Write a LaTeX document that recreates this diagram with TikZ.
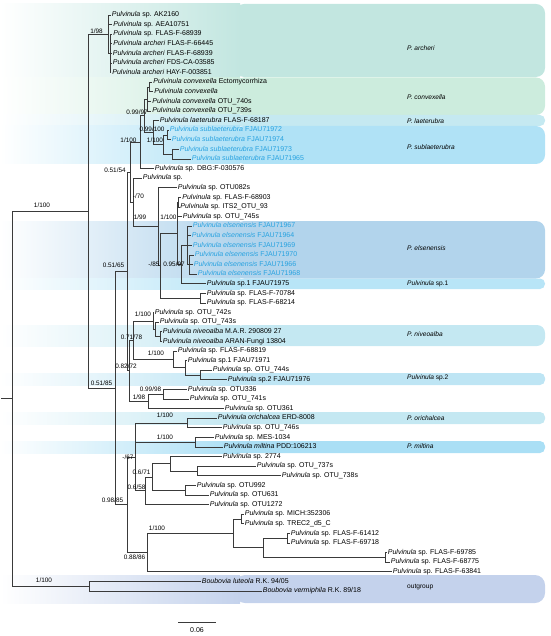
\documentclass[tikz,border=0pt]{standalone}
\usepackage{fontspec}
\setmainfont{Liberation Sans}
\newcommand{\Pul}{\textit{Pulvinula}}
\definecolor{treeline}{HTML}{3A3A3A}
\definecolor{blueleaf}{HTML}{27A2E0}
\definecolor{cArch}{HTML}{C2E6E0}
\definecolor{cConv}{HTML}{CCECDD}
\definecolor{cLaet}{HTML}{C5E9F1}
\definecolor{cSubl}{HTML}{B0E2F6}
\definecolor{cElse}{HTML}{B2D4EC}
\definecolor{cSpA}{HTML}{B8E5F7}
\definecolor{cNive}{HTML}{C4E8F2}
\definecolor{cSpB}{HTML}{BEE5F4}
\definecolor{cOric}{HTML}{C4E8F2}
\definecolor{cMilt}{HTML}{AADFF5}
\definecolor{cOut}{HTML}{C4D2EC}
\tikzset{
  br/.style={draw=treeline, line width=0.75pt},
  leaf/.style={anchor=west, inner sep=1.2pt, font=\fontsize{7}{8}\selectfont, text height=5pt, text depth=1.5pt},
  bleaf/.style={leaf, text=blueleaf},
  supp/.style={font=\fontsize{6.4}{7}\selectfont, inner sep=0pt},
  clade/.style={anchor=west, font=\fontsize{6.6}{7}\selectfont, inner sep=0pt},
}
\newcommand{\band}[4]{% top, bottom, color, radius
  \fill[#3, rounded corners=#4] (235,#1) rectangle (545,#2);
  \shade[left color=white, right color=#3] (0,#1) rectangle (240,#2);
}
\begin{document}
\begin{tikzpicture}[x=1pt, y=-1pt]
\useasboundingbox (0,0) rectangle (550,636);
% ---- bands ----
\band{4}{77}{cArch}{9}
\band{77.5}{115}{cConv}{9}
\band{115}{126}{cLaet}{5}
\band{126}{164}{cSubl}{9}
\band{221}{278.5}{cElse}{9}
\band{278.5}{289}{cSpA}{5}
\band{325}{346}{cNive}{8}
\band{373}{385}{cSpB}{5}
\band{412}{424}{cOric}{5}
\band{441}{453}{cMilt}{5}
\band{575}{603}{cOut}{10}
% ---- clade labels ----
\node[clade] (cl01) at (407,48) {\textit{P. archeri}};
\node[clade] (cl02) at (407,97) {\textit{P. convexella}};
\node[clade] (cl03) at (407,121) {\textit{P. laeterubra}};
\node[clade] (cl04) at (407,147) {\textit{P. sublaeterubra}};
\node[clade] (cl05) at (407,248) {\textit{P. elsenensis}};
\node[clade] (cl06) at (407,283.5) {\Pul{} sp.1};
\node[clade] (cl07) at (407,334) {\textit{P. niveoalba}};
\node[clade] (cl08) at (407,378) {\Pul{} sp.2};
\node[clade] (cl09) at (407,418) {\textit{P. orichalcea}};
\node[clade] (cl10) at (407,446.5) {\textit{P. miltina}};
\node[clade] (cl11) at (407,587) {outgroup};
% ---- internal nodes ----
\coordinate (stub) at (1,398.7);
\coordinate (ROOT) at (12,398.7);
\coordinate (IN) at (88,211.2);
\coordinate (OUT) at (89,586.2);
\coordinate (ARCH) at (108.5,34.2);
\coordinate (A1) at (110,53.4);
\coordinate (N5185) at (115,388.2);
\coordinate (N5165) at (127,271.6);
\coordinate (N5154) at (130,172.35);
\coordinate (B) at (140,142.2);
\coordinate (N9997) at (144,115.8);
\coordinate (C0) at (147,99);
\coordinate (C1) at (149,87);
\coordinate (N99100) at (153,132.6);
\coordinate (SUB) at (163,144.6);
\coordinate (S1) at (167,135);
\coordinate (S2) at (172,154.2);
\coordinate (NM70) at (133,202.5);
\coordinate (N199) at (158,226.8);
\coordinate (NM85) at (160,265.8);
\coordinate (Q) at (177,233.4);
\coordinate (R) at (178.5,202.2);
\coordinate (S) at (181,264.6);
\coordinate (E1) at (187,245.4);
\coordinate (E2) at (189,264.6);
\coordinate (P) at (200,298.2);
\coordinate (N8272) at (129,370.8);
\coordinate (N7178) at (133,340.2);
\coordinate (N1100n) at (153,321);
\coordinate (N2) at (155,329.4);
\coordinate (NIV) at (160,336.6);
\coordinate (M1) at (173,359.4);
\coordinate (M2) at (185,367.8);
\coordinate (M3) at (200,375);
\coordinate (N198) at (148,401.4);
\coordinate (N9998) at (163,394.2);
\coordinate (N9885) at (127,504.75);
\coordinate (NM67) at (135,456.9);
\coordinate (ORI) at (187,423);
\coordinate (MIL) at (195,442.2);
\coordinate (N658) at (145,490.8);
\coordinate (N671) at (152,477);
\coordinate (T2774) at (170,463.8);
\coordinate (T737) at (197,471);
\coordinate (T992) at (185,490.2);
\coordinate (N8886) at (147,552.6);
\coordinate (N1100m) at (233,533.4);
\coordinate (MT) at (241,519);
\coordinate (F4) at (263,547.8);
\coordinate (F41) at (287,538.2);
\coordinate (F42) at (385,557.4);
% ---- leaves ----
\node[leaf] (l1) at (110.5,15) {\Pul{} sp. AK2160};
\node[leaf] (l2) at (112,24.6) {\Pul{} sp. AEA10751};
\node[leaf] (l3) at (112,34.2) {\Pul{} sp. FLAS-F-68939};
\node[leaf] (l4) at (112,43.8) {\textit{Pulvinula archeri} FLAS-F-66445};
\node[leaf] (l5) at (111.5,53.4) {\textit{Pulvinula archeri} FLAS-F-68939};
\node[leaf] (l6) at (111.5,63) {\textit{Pulvinula archeri} FDS-CA-03585};
\node[leaf] (l7) at (111,72.6) {\textit{Pulvinula archeri} HAY-F-003851};
\node[leaf] (l8) at (152,82.2) {\textit{Pulvinula convexella} Ectomycorrhiza};
\node[leaf] (l9) at (153,91.8) {\textit{Pulvinula convexella}};
\node[leaf] (l10) at (151,101.4) {\textit{Pulvinula convexella} OTU\_740s};
\node[leaf] (l11) at (151,111) {\textit{Pulvinula convexella} OTU\_739s};
\node[leaf] (l12) at (158.5,120.6) {\textit{Pulvinula laeterubra} FLAS-F-68187};
\node[bleaf] (l13) at (168.5,130.2) {\textit{Pulvinula sublaeterubra} FJAU71972};
\node[bleaf] (l14) at (170.5,139.8) {\textit{Pulvinula sublaeterubra} FJAU71974};
\node[bleaf] (l15) at (178.5,149.4) {\textit{Pulvinula sublaeterubra} FJAU71973};
\node[bleaf] (l16) at (190.5,159) {\textit{Pulvinula sublaeterubra} FJAU71965};
\node[leaf] (l17) at (153.5,168.6) {\Pul{} sp. DBG:F-030576};
\node[leaf] (l18) at (141.5,178.2) {\Pul{} sp.};
\node[leaf] (l19) at (176.5,187.8) {\Pul{} sp. OTU082s};
\node[leaf] (l20) at (181,197.4) {\Pul{} sp. FLAS-F-68903};
\node[leaf] (l21) at (179,207) {\Pul{} sp. ITS2\_OTU\_93};
\node[leaf] (l22) at (181.5,216.6) {\Pul{} sp. OTU\_745s};
\node[bleaf] (l23) at (191.5,226.2) {\textit{Pulvinula elsenensis} FJAU71967};
\node[bleaf] (l24) at (190.5,235.8) {\textit{Pulvinula elsenensis} FJAU71964};
\node[bleaf] (l25) at (191.5,245.4) {\textit{Pulvinula elsenensis} FJAU71969};
\node[bleaf] (l26) at (193.5,255) {\textit{Pulvinula elsenensis} FJAU71970};
\node[bleaf] (l27) at (192.5,264.6) {\textit{Pulvinula elsenensis} FJAU71966};
\node[bleaf] (l28) at (196.5,274.2) {\textit{Pulvinula elsenensis} FJAU71968};
\node[leaf] (l29) at (205.5,283.8) {\Pul{} sp.1 FJAU71975};
\node[leaf] (l30) at (205.5,293.4) {\Pul{} sp. FLAS-F-70784};
\node[leaf] (l31) at (205.5,303) {\Pul{} sp. FLAS-F-68214};
\node[leaf] (l32) at (153.5,312.6) {\Pul{} sp. OTU\_742s};
\node[leaf] (l33) at (158.5,322.2) {\Pul{} sp. OTU\_743s};
\node[leaf] (l34) at (161.5,331.8) {\textit{Pulvinula niveoalba} M.A.R. 290809 27};
\node[leaf] (l35) at (161.5,341.4) {\textit{Pulvinula niveoalba} ARAN-Fungi 13804};
\node[leaf] (l36) at (176.5,351) {\Pul{} sp. FLAS-F-68819};
\node[leaf] (l37) at (186.5,360.6) {\Pul{} sp.1 FJAU71971};
\node[leaf] (l38) at (211.5,370.2) {\Pul{} sp. OTU\_744s};
\node[leaf] (l39) at (226.5,379.8) {\Pul{} sp.2 FJAU71976};
\node[leaf] (l40) at (186.5,389.4) {\Pul{} sp. OTU336};
\node[leaf] (l41) at (188.5,399) {\Pul{} sp. OTU\_741s};
\node[leaf] (l42) at (223.5,408.6) {\Pul{} sp. OTU361};
\node[leaf] (l43) at (216.5,418.2) {\textit{Pulvinula orichalcea} ERD-8008};
\node[leaf] (l44) at (221.5,427.8) {\Pul{} sp. OTU\_746s};
\node[leaf] (l45) at (213.5,437.4) {\Pul{} sp. MES-1034};
\node[leaf] (l46) at (222.5,447) {\textit{Pulvinula miltina} PDD:106213};
\node[leaf] (l47) at (221.5,456.6) {\Pul{} sp. 2774};
\node[leaf] (l48) at (255.5,466.2) {\Pul{} sp. OTU\_737s};
\node[leaf] (l49) at (280.5,475.8) {\Pul{} sp. OTU\_738s};
\node[leaf] (l50) at (195.5,485.4) {\Pul{} sp. OTU992};
\node[leaf] (l51) at (208.5,495) {\Pul{} sp. OTU631};
\node[leaf] (l52) at (208.5,504.6) {\Pul{} sp. OTU1272};
\node[leaf] (l53) at (243.5,514.2) {\Pul{} sp. MICH:352306};
\node[leaf] (l54) at (243.5,523.8) {\Pul{} sp. TREC2\_d5\_C};
\node[leaf] (l55) at (289.5,533.4) {\Pul{} sp. FLAS-F-61412};
\node[leaf] (l56) at (289.5,543) {\Pul{} sp. FLAS-F-69718};
\node[leaf] (l57) at (386.5,552.6) {\Pul{} sp. FLAS-F-69785};
\node[leaf] (l58) at (389.5,562.2) {\Pul{} sp. FLAS-F-68775};
\node[leaf] (l59) at (391.5,571.8) {\Pul{} sp. FLAS-F-63841};
\node[leaf] (l60) at (200.5,581.4) {\textit{Boubovia luteola} R.K. 94/05};
\node[leaf] (l61) at (261.5,591) {\textit{Boubovia vermiphila} R.K. 89/18};
% ---- branches ----
\draw[br] (stub) -- (ROOT);
\draw[br] (ROOT) |- (IN);
\draw[br] (ROOT) |- (OUT);
\draw[br] (OUT) |- (l60.west);
\draw[br] (OUT) |- (l61.west);
\draw[br] (IN) |- (ARCH);
\draw[br] (IN) |- (N5185);
\draw[br] (ARCH) |- (l1.west);
\draw[br] (ARCH) |- (l2.west);
\draw[br] (ARCH) |- (A1);
\foreach \c in {l3,l4,l5,l6,l7} \draw[br] (A1) |- (\c.west);
\draw[br] (N5185) |- (N5165);
\draw[br] (N5185) |- (N9885);
\draw[br] (N5165) |- (N5154);
\draw[br] (N5165) |- (N8272);
\draw[br] (N5154) |- (B);
\draw[br] (N5154) |- (NM70);
\draw[br] (B) |- (N9997);
\draw[br] (B) |- (l17.west);
\draw[br] (N9997) |- (C0);
\draw[br] (N9997) |- (N99100);
\draw[br] (C0) |- (C1);
\draw[br] (C0) |- (l10.west);
\draw[br] (C0) |- (l11.west);
\draw[br] (C1) |- (l8.west);
\draw[br] (C1) |- (l9.west);
\draw[br] (N99100) |- (l12.west);
\draw[br] (N99100) |- (SUB);
\draw[br] (SUB) |- (S1);
\draw[br] (SUB) |- (S2);
\draw[br] (S1) |- (l13.west);
\draw[br] (S1) |- (l14.west);
\draw[br] (S2) |- (l15.west);
\draw[br] (S2) |- (l16.west);
\draw[br] (NM70) |- (l18.west);
\draw[br] (NM70) |- (N199);
\draw[br] (N199) |- (l19.west);
\draw[br] (N199) |- (NM85);
\draw[br] (NM85) |- (Q);
\draw[br] (NM85) |- (P);
\draw[br] (Q) |- (R);
\draw[br] (Q) |- (l22.west);
\draw[br] (Q) |- (S);
\draw[br] (R) |- (l20.west);
\draw[br] (R) |- (l21.west);
\draw[br] (S) |- (E1);
\draw[br] (S) |- (l29.west);
\draw[br] (E1) |- (l23.west);
\draw[br] (E1) |- (l24.west);
\draw[br] (E1) |- (l25.west);
\draw[br] (E1) |- (E2);
\draw[br] (E2) |- (l26.west);
\draw[br] (E2) |- (l27.west);
\draw[br] (E2) |- (l28.west);
\draw[br] (P) |- (l30.west);
\draw[br] (P) |- (l31.west);
\draw[br] (N8272) |- (N7178);
\draw[br] (N8272) |- (N198);
\draw[br] (N7178) |- (N1100n);
\draw[br] (N7178) |- (M1);
\draw[br] (N1100n) |- (l32.west);
\draw[br] (N1100n) |- (N2);
\draw[br] (N2) |- (l33.west);
\draw[br] (N2) |- (NIV);
\draw[br] (NIV) |- (l34.west);
\draw[br] (NIV) |- (l35.west);
\draw[br] (M1) |- (l36.west);
\draw[br] (M1) |- (M2);
\draw[br] (M2) |- (l37.west);
\draw[br] (M2) |- (M3);
\draw[br] (M3) |- (l38.west);
\draw[br] (M3) |- (l39.west);
\draw[br] (N198) |- (N9998);
\draw[br] (N198) |- (l42.west);
\draw[br] (N9998) |- (l40.west);
\draw[br] (N9998) |- (l41.west);
\draw[br] (N9885) |- (NM67);
\draw[br] (N9885) |- (N8886);
\draw[br] (NM67) |- (ORI);
\draw[br] (NM67) |- (MIL);
\draw[br] (NM67) |- (N658);
\draw[br] (ORI) |- (l43.west);
\draw[br] (ORI) |- (l44.west);
\draw[br] (MIL) |- (l45.west);
\draw[br] (MIL) |- (l46.west);
\draw[br] (N658) |- (N671);
\draw[br] (N658) |- (l52.west);
\draw[br] (N671) |- (T2774);
\draw[br] (N671) |- (T992);
\draw[br] (T2774) |- (l47.west);
\draw[br] (T2774) |- (T737);
\draw[br] (T737) |- (l48.west);
\draw[br] (T737) |- (l49.west);
\draw[br] (T992) |- (l50.west);
\draw[br] (T992) |- (l51.west);
\draw[br] (N8886) |- (N1100m);
\draw[br] (N8886) |- (l59.west);
\draw[br] (N1100m) |- (MT);
\draw[br] (N1100m) |- (F4);
\draw[br] (MT) |- (l53.west);
\draw[br] (MT) |- (l54.west);
\draw[br] (F4) |- (F41);
\draw[br] (F4) |- (F42);
\draw[br] (F41) |- (l55.west);
\draw[br] (F41) |- (l56.west);
\draw[br] (F42) |- (l57.west);
\draw[br] (F42) |- (l58.west);
% ---- support values ----
\node[supp] (s01) at (42,205) {1/100};
\node[supp] (s02) at (96.5,31) {1/98};
\node[supp] (s03) at (137,112) {0.99/97};
\node[supp] (s04) at (152,129) {0.99/100};
\node[supp] (s05) at (128.5,140) {1/100};
\node[supp] (s06) at (155,140) {1/100};
\node[supp] (s07) at (115,170) {0.51/54};
\node[supp] (s08) at (138.5,196) {-/70};
\node[supp] (s09) at (140,217) {1/99};
\node[supp] (s10) at (168.5,217) {1/100};
\node[supp] (s11) at (154,264) {-/85};
\node[supp] (s12) at (174,264) {0.95/97};
\node[supp] (s13) at (113.5,265) {0.51/65};
\node[supp] (s14) at (143,314) {1/100};
\node[supp] (s15) at (131.5,337) {0.71/78};
\node[supp] (s16) at (156,353) {1/100};
\node[supp] (s17) at (126,366) {0.82/72};
\node[supp] (s18) at (101.5,383) {0.51/85};
\node[supp] (s19) at (150.5,389) {0.99/98};
\node[supp] (s20) at (139,397) {1/98};
\node[supp] (s21) at (165,415) {1/100};
\node[supp] (s22) at (165,437) {1/100};
\node[supp] (s23) at (128,457) {-/67};
\node[supp] (s24) at (141.5,472) {0.6/71};
\node[supp] (s25) at (136.5,487) {0.6/58};
\node[supp] (s26) at (112.5,500) {0.98/85};
\node[supp] (s27) at (157,528) {1/100};
\node[supp] (s28) at (134.5,557) {0.88/86};
\node[supp] (s29) at (44,580) {1/100};
% ---- scale bar ----
\coordinate (sb1) at (178,622);
\coordinate (sb2) at (216,622);
\draw[br] (sb1) -- (sb2);
\node[supp, font=\fontsize{7}{8}\selectfont] (sbl) at (197,630) {0.06};
\end{tikzpicture}
\end{document}
